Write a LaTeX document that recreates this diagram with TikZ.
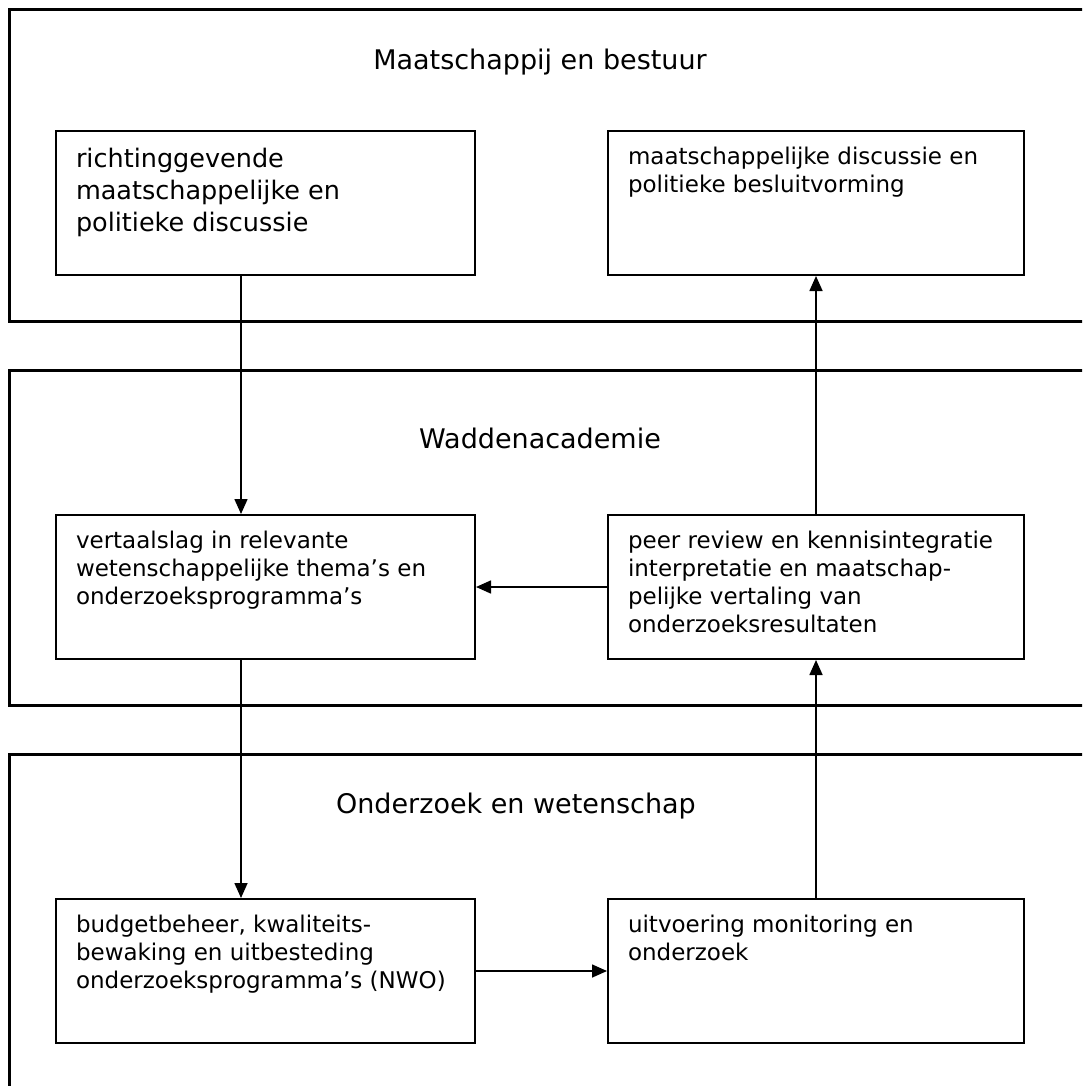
\documentclass[tikz,border=0pt]{standalone}
\usepackage{fontspec}
\setmainfont{DejaVu Sans}
\usetikzlibrary{positioning,calc,arrows.meta}

\newcommand{\inhoud}[2]{\parbox[c][58pt][t]{#1}{\raggedright\strut #2}}

\begin{document}
\begin{tikzpicture}[x=0.5pt,y=-0.5pt,
    kader/.style={line width=1.5pt},
    blok/.style={draw, line width=1pt, anchor=north west, inner xsep=10pt, inner ysep=7pt,
      font=\fontsize{11.5pt}{14pt}\selectfont},
    kop/.style={anchor=base, font=\fontsize{13.5pt}{16pt}\selectfont},
    pijl/.style={line width=0.8pt, -{Triangle[length=7.5pt,width=6.5pt]}}]
    \clip (0,0) rectangle (1082,1086);

    % Maatschappij en bestuur
    \draw[kader] (9,10) rectangle (1100,321);
    \node[kop] (kop1) at (540,70) {Maatschappij en bestuur};
    \node[blok, font=\fontsize{12.75pt}{16pt}\selectfont] (richting) at (55,130)
        {\inhoud{189.5pt}{richtinggevende\\maatschappelijke en\\politieke discussie}};
    \node[blok] (besluit) at (607,130)
        {\inhoud{188pt}{maatschappelijke discussie en\\politieke besluitvorming}};

    % Waddenacademie
    \draw[kader] (9,370) rectangle (1100,705);
    \node[kop] (kop2) at (540,448) {Waddenacademie};
    \node[blok] (vertaal) at (55,514)
        {\inhoud{189.5pt}{vertaalslag in relevante\\wetenschappelijke thema’s en\\onderzoeksprogramma’s}};
    \node[blok] (review) at (607,514)
        {\inhoud{188pt}{peer review en kennisintegratie\\interpretatie en maatschap-\\pelijke vertaling van\\onderzoeksresultaten}};

    % Onderzoek en wetenschap
    \draw[kader] (9,754) rectangle (1100,1120);
    \node[kop] (kop3) at (516,813) {Onderzoek en wetenschap};
    \node[blok] (budget) at (55,898)
        {\inhoud{189.5pt}{budgetbeheer, kwaliteits-\\bewaking en uitbesteding\\onderzoeksprogramma’s (NWO)}};
    \node[blok] (uitvoering) at (607,898)
        {\inhoud{188pt}{uitvoering monitoring en\\onderzoek}};

    % Pijlen
    \coordinate (links) at (241,0);
    \draw[pijl] (richting.south -| links) -- (vertaal.north -| links);
    \draw[pijl] (vertaal.south -| links) -- (budget.north -| links);
    \draw[pijl] (review.north) -- (besluit.south);
    \draw[pijl] (uitvoering.north) -- (review.south);
    \draw[pijl] (review.west) -- (vertaal.east);
    \draw[pijl] (budget.east) -- (uitvoering.west);
\end{tikzpicture}
\end{document}
